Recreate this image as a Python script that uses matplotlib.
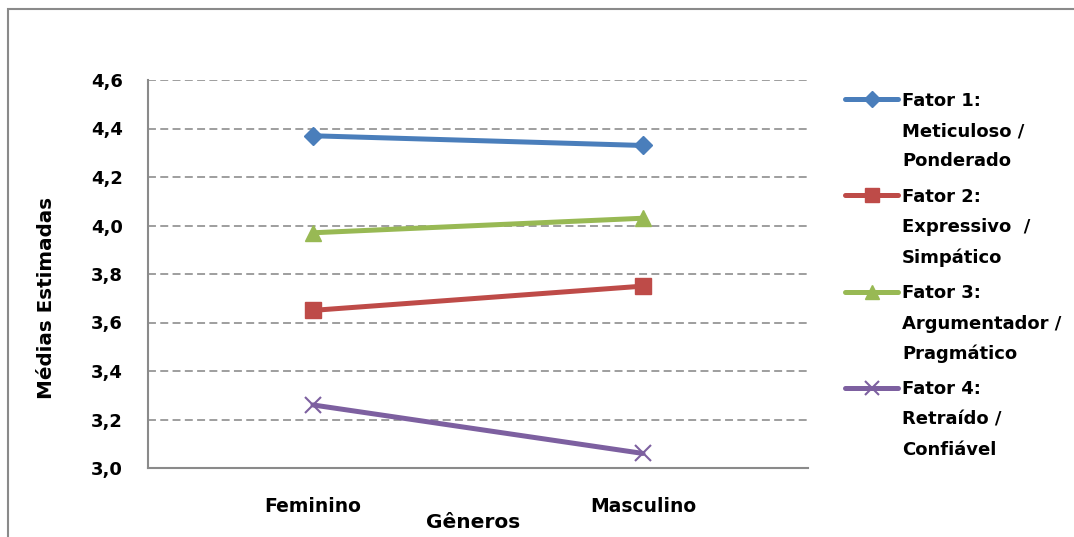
import matplotlib.pyplot as plt
import matplotlib.patches as mpatches
from matplotlib.lines import Line2D

# mean scores per factor, by gender
generos = ['Feminino', 'Masculino']
fator1 = [4.37, 4.33]
fator2 = [3.65, 3.75]
fator3 = [3.97, 4.03]
fator4 = [3.26, 3.06]
rotulos = [['Fator 1:', 'Meticuloso /', 'Ponderado'],
           ['Fator 2:', 'Expressivo  /', 'Simpático'],
           ['Fator 3:', 'Argumentador /', 'Pragmático'],
           ['Fator 4:', 'Retraído /', 'Confiável']]
yticks = [3.0, 3.2, 3.4, 3.6, 3.8, 4.0, 4.2, 4.4, 4.6]

plt.rcParams['font.family'] = ['DejaVu Sans']
plt.rcParams['font.weight'] = 'bold'

W, H = 1074, 537
fig = plt.figure(figsize=(W / 100, H / 100), dpi=100)
ax = fig.add_axes([148 / W, 1 - 468 / H, 660 / W, 388 / H])

def px(x, y):
    # pixel position (from top-left) -> figure fraction
    return x / W, 1 - y / H

# frame around the chart
fig.add_artist(mpatches.Rectangle((8 / W, -0.1), 1.2, 1 - 9 / H + 0.1,
                                  transform=fig.transFigure, fill=False,
                                  edgecolor='#8a8a8a', linewidth=1.5))

x = range(len(generos))
estilos = [
    (fator1, '#4a7ebb', dict(marker='D', markersize=9.5)),
    (fator2, '#be4b48', dict(marker='s', markersize=11.5)),
    (fator3, '#98b954', dict(marker='^', markersize=11.5)),
    (fator4, '#7d60a0', dict(marker='x', markersize=11, markeredgewidth=1.5)),
]
for vals, cor, mk in estilos:
    ax.plot(x, vals, color=cor, linewidth=3.6, solid_capstyle='round',
            markerfacecolor=cor, markeredgecolor=cor, zorder=3, **mk)

ax.set_xlim(-0.5, 1.5)
ax.set_ylim(3.0, 4.6)
ax.set_yticks(yticks)
ax.set_yticklabels([f'{v:.1f}'.replace('.', ',') for v in yticks])
ax.set_xticks(list(x))
ax.set_xticklabels(generos)
ax.tick_params(length=0, labelsize=13)
ax.tick_params(axis='y', pad=18)
ax.tick_params(axis='x', pad=21, labelsize=13.5)

for v in yticks[1:]:
    ax.axhline(v, color='#969696', linestyle=(0, (4.4, 2.4)), linewidth=1.3, zorder=0)

for s in ['top', 'right']:
    ax.spines[s].set_visible(False)
for s in ['left', 'bottom']:
    ax.spines[s].set_color('#8a8a8a')
    ax.spines[s].set_linewidth(1.5)

fig.text(*px(46, 298), 'Médias Estimadas', rotation=90, ha='center', va='center',
         fontsize=14.3, fontweight='bold')
fig.text(*px(473, 528), 'Gêneros', ha='center', va='baseline',
         fontsize=14.5, fontweight='bold')

# legend drawn by hand: three-line labels with wide spacing
for i, ((vals, cor, mk), linhas) in enumerate(zip(estilos, rotulos)):
    yc = 99 + 96.3 * i
    x0, y0 = px(845, yc)
    x1, _ = px(898, yc)
    mk_leg = dict(mk, markersize=mk['markersize'] * 0.9)
    fig.add_artist(Line2D([x0, (x0 + x1) / 2, x1], [y0, y0, y0], transform=fig.transFigure,
                          color=cor, linewidth=3.6, solid_capstyle='round', markevery=[1],
                          markerfacecolor=cor, markeredgecolor=cor, **mk_leg))
    for k, linha in enumerate(linhas):
        fig.text(*px(902, yc + 6.5 + 30.5 * k), linha, ha='left', va='baseline',
                 fontsize=13, fontweight='bold')

fig.savefig('out.png', dpi=100)
